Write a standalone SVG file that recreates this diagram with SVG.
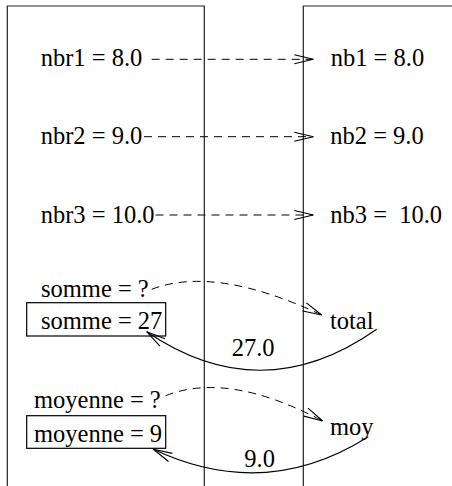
<svg xmlns="http://www.w3.org/2000/svg" width="452" height="486" viewBox="0 0 452 486">
<defs>
<style>
.t{font-family:'Liberation Serif','Times New Roman',serif;font-size:24.5px;fill:#000;stroke:none}
.frame{fill:none;stroke:#222;stroke-width:1.2}
.box{fill:none;stroke:#000;stroke-width:1.2}
.dash{fill:none;stroke:#000;stroke-width:1;stroke-dasharray:8,6}
.solid{fill:none;stroke:#000;stroke-width:1.1}
</style>
<marker id="arr" markerUnits="userSpaceOnUse" markerWidth="30" markerHeight="14" viewBox="-22 -7 24 14" refX="0" refY="0" orient="auto" overflow="visible">
<path d="M-19,-4.5 L0,0 L-19,4.5" fill="none" stroke="#000" stroke-width="1.1"/>
</marker>
</defs>
<rect width="452" height="486" fill="#fff"/>
<g id="caller"><path class="frame" d="M7.3,486 V6 H204.3 V486"/></g>
<g id="callee"><path class="frame" d="M303.3,486 V6 H452"/></g>
<g id="nbr1"><text class="t" x="40.7" y="65.7">nbr1 = 8.0</text></g>
<g id="nbr2"><text class="t" x="40.7" y="144">nbr2 = 9.0</text></g>
<g id="nbr3"><text class="t" x="40.7" y="222.7">nbr3 = 10.0</text></g>
<g id="nb1"><text class="t" x="330.7" y="65.7">nb1 = 8.0</text></g>
<g id="nb2"><text class="t" x="330.3" y="144">nb2 = 9.0</text></g>
<g id="nb3"><text class="t" x="330.3" y="222.7">nb3 = &#160;10.0</text></g>
<g id="somme-init"><text class="t" x="41" y="296.7">somme = ?</text></g>
<g id="somme-result">
<rect class="box" x="26.7" y="302.7" width="139" height="33.3"/>
<text class="t" x="41" y="329.3">somme = 27</text>
</g>
<g id="total"><text class="t" x="330" y="329.3">total</text></g>
<g id="moyenne-init"><text class="t" x="34" y="408">moyenne = ?</text></g>
<g id="moyenne-result">
<rect class="box" x="26.7" y="415.7" width="139" height="32.6"/>
<text class="t" x="34" y="442.3">moyenne = 9</text>
</g>
<g id="moy"><text class="t" x="330" y="435">moy</text></g>
<g id="connectors">
<path class="dash" d="M151.7,59.3 H313.3" marker-end="url(#arr)"/>
<path class="dash" d="M144,136.7 H313.3" marker-end="url(#arr)"/>
<path class="dash" d="M155.5,215 H313.3" marker-end="url(#arr)"/>
<path class="dash" d="M151.7,289.3 Q215,265 321.7,315" marker-end="url(#arr)"/>
<path class="solid" d="M376.7,329.3 Q262,410 146.7,331.7" marker-end="url(#arr)"/>
<text class="t" x="231.7" y="356">27.0</text>
<path class="dash" d="M165.7,395.7 Q228,371 322.7,421" marker-end="url(#arr)"/>
<path class="solid" d="M368.3,436.7 Q265,502 153.3,449.3" marker-end="url(#arr)"/>
<text class="t" x="244.3" y="466.7">9.0</text>
</g>
</svg>
